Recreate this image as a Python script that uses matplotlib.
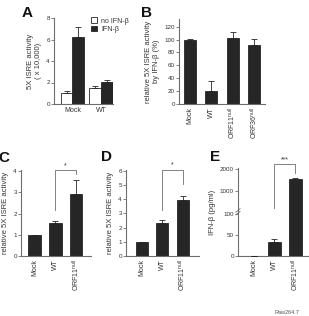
import numpy as np
from matplotlib import pyplot as plt

plt.rcParams['font.family'] = ['Liberation Sans', 'DejaVu Sans']
plt.rcParams['mathtext.fontset'] = 'custom'
plt.rcParams['mathtext.rm'] = 'Liberation Sans'

# ============ data ============ #
a_groups = ['Mock', 'WT']
a_no_ifn = [1.05, 1.5]
a_no_ifn_err = [0.12, 0.2]
a_ifn = [6.2, 2.05]
a_ifn_err = [0.95, 0.22]

b_labels = ['Mock', 'WT', r'ORF11$^{\rm null}$', r'ORF36$^{\rm null}$']
b_vals = [100, 20, 103, 91]
b_err = [1.5, 15, 9, 10]

c_labels = ['Mock', 'WT', r'ORF11$^{\rm null}$']
c_vals = [1.0, 1.55, 2.92]
c_err = [0.0, 0.1, 0.65]

d_labels = ['Mock', 'WT', r'ORF11$^{\rm null}$']
d_vals = [1.0, 2.33, 3.92]
d_err = [0.0, 0.17, 0.32]

e_labels = ['Mock', 'WT', r'ORF11$^{\rm null}$']
e_vals = [0, 32, 1550]
e_err = [0, 8, 70]
e_ticks = [0, 50, 100, 1000, 2000]

W, H = 309, 316
BAR = '#262626'
AXC = '#6e6e6e'
TXT = '#333333'
FS = 5

fig = plt.figure(figsize=(W / 100, H / 100), dpi=100)


def box(x0, y0, x1, y1):
    # pixel box -> axes
    return fig.add_axes([x0 / W, 1 - y1 / H, (x1 - x0) / W, (y1 - y0) / H])


def style(ax):
    for s in ['top', 'right']:
        ax.spines[s].set_visible(False)
    for s in ['left', 'bottom']:
        ax.spines[s].set_color(AXC)
        ax.spines[s].set_linewidth(0.8)
    ax.tick_params(axis='y', length=2, width=0.6, color=AXC, labelsize=FS - 0.5,
                   labelcolor=TXT, pad=1)
    ax.tick_params(axis='x', length=0, labelsize=FS, labelcolor=TXT, pad=2)


def bars(ax, x, v, e, w, color=BAR):
    ax.bar(x, v, w, color=color, edgecolor=BAR, linewidth=0.6, zorder=2)
    ax.errorbar(x, v, yerr=[np.zeros(len(e)), e], fmt='none', ecolor=BAR,
                elinewidth=0.6, capsize=2, capthick=0.6, zorder=3)


def bracket(ax, x1, x2, y, yl, yr, txt, ts):
    ax.plot([x1, x1, x2, x2], [yl, y, y, yr], color=AXC, lw=0.6, clip_on=False)
    ax.text((x1 + x2) / 2, ts, txt, ha='center', va='center', fontsize=FS,
            color=TXT, clip_on=False)


# ============ A ============ #
ax = box(54, 18, 113, 104)
style(ax)
xa = np.array([0, 2.44])
bars(ax, xa - 0.5, a_no_ifn, a_no_ifn_err, 1, color='white')
bars(ax, xa + 0.5, a_ifn, a_ifn_err, 1)
ax.set_xlim(-1.57, 3.45)
ax.set_ylim(0, 8)
ax.set_yticks([0, 2, 4, 6, 8])
ax.set_xticks(xa)
ax.set_xticklabels(a_groups)
ax.set_ylabel('5X ISRE activity\n( x 10,000)', fontsize=FS + 0.5, color=TXT,
              labelpad=3, linespacing=1.3)
h1 = plt.Rectangle((0, 0), 1, 1, fc='white', ec=BAR, lw=0.6)
h2 = plt.Rectangle((0, 0), 1, 1, fc=BAR, ec=BAR, lw=0.6)
ax.legend([h1, h2], ['no IFN-β', 'IFN-β'], loc='upper left', frameon=False,
          bbox_to_anchor=(88 / W, 1 - 14 / H), bbox_transform=fig.transFigure,
          fontsize=FS, handlelength=0.8, handleheight=0.8, handletextpad=0.6,
          labelspacing=0.15, borderpad=0, labelcolor=TXT)

# ============ B ============ #
ax = box(179, 19, 265, 104)
style(ax)
xb = np.arange(4)
bars(ax, xb, b_vals, b_err, 0.56)
ax.set_xlim(-0.52, 3.52)
ax.set_ylim(0, 132)
ax.set_yticks(range(0, 121, 20))
ax.set_xticks(xb)
ax.set_xticklabels(b_labels, rotation=90)
ax.set_ylabel('relative 5X ISRE activity\nby IFN-β (%)', fontsize=FS + 0.5,
              color=TXT, labelpad=3, linespacing=1.3)

# ============ C ============ #
ax = box(21, 170, 91, 256)
style(ax)
xc = np.arange(3)
bars(ax, xc, c_vals, c_err, 0.6)
ax.set_xlim(-0.65, 2.72)
ax.set_ylim(0, 4.05)
ax.set_yticks(range(5))
ax.set_xticks(xc)
ax.set_xticklabels(c_labels, rotation=90)
ax.set_ylabel('relative 5X ISRE activity', fontsize=FS + 0.5, color=TXT, labelpad=3)
bracket(ax, 1, 2, 4.05, 2.15, 3.87, '*', 4.25)

# ============ D ============ #
ax = box(126, 170, 199, 256)
style(ax)
xd = np.arange(3)
bars(ax, xd, d_vals, d_err, 0.59)
ax.set_xlim(-0.79, 2.81)
ax.set_ylim(0, 6.05)
ax.set_yticks(range(7))
ax.set_xticks(xd)
ax.set_xticklabels(d_labels, rotation=90)
ax.set_ylabel('relative 5X ISRE activity', fontsize=FS + 0.5, color=TXT, labelpad=3)
bracket(ax, 1, 2, 6.05, 3.23, 5.1, '*', 6.4)

# ============ E ============ #
seg_v = [0, 50, 100, 1000, 2000, 3000]
seg_p = [0, 1, 2, 3.05, 4.1, 5.15]


def fwd(y):
    return np.interp(y, seg_v, seg_p)


def inv(p):
    return np.interp(p, seg_p, seg_v)


ax = box(238, 168, 308, 256)
style(ax)
ax.set_yscale('function', functions=(fwd, inv))
xe = np.arange(3)
bars(ax, xe, e_vals, e_err, 0.62)
ax.set_xlim(-0.74, 2.6)
ax.set_ylim(0, 2050)
ax.set_yticks(e_ticks)
ax.set_yticklabels([str(t) for t in e_ticks])
ax.minorticks_off()
ax.set_xticks(xe)
ax.set_xticklabels(e_labels, rotation=90)
ax.set_ylabel('IFN-β (pg/ml)', fontsize=FS + 0.5, color=TXT, labelpad=3)
bracket(ax, 1, 2, 2240, 328, 1820, '***', 2420)
# axis break marks
yb = (fwd(120) - fwd(0)) / (fwd(2050) - fwd(0))
for dy in (0, 0.03):
    ax.plot([-0.03, 0.03], [yb + dy - 0.02, yb + dy + 0.02], transform=ax.transAxes,
            color=AXC, lw=0.6, clip_on=False)

# ============ panel letters ============ #
for lab, x, y in [('A', 27, 13), ('B', 146, 13), ('C', 4, 158), ('D', 107, 157),
                  ('E', 215, 157)]:
    fig.text(x / W, 1 - y / H, lab, fontsize=11, fontweight='bold', ha='center',
             va='center', color='#111111')

fig.text(287 / W, 1 - 312 / H, 'Raw264.7', fontsize=4, ha='center', va='center',
         color='#555555')

fig.savefig('out.png', dpi=100)
